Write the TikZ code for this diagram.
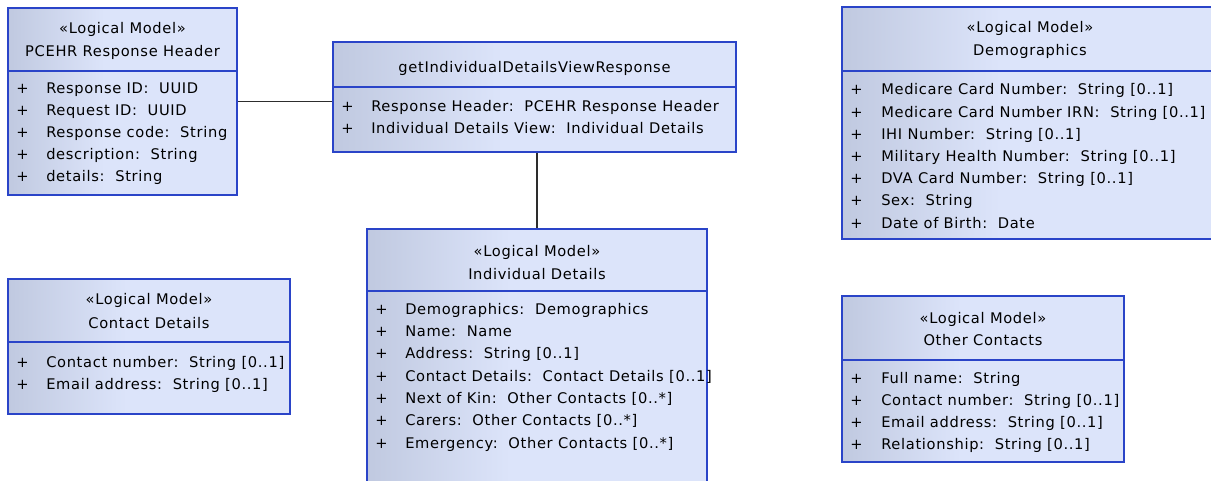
\documentclass[tikz,border=0pt]{standalone}
\usepackage{fontspec}
\setmainfont{DejaVu Sans}[LetterSpace=4.5]
\usetikzlibrary{fit}

\definecolor{umlborder}{RGB}{42,68,200}
\definecolor{umldark}{RGB}{192,201,224}
\definecolor{umllight}{RGB}{220,228,250}
\definecolor{linkcol}{RGB}{45,45,45}

% left-to-right fill of the class boxes (the path maps onto 25bp..75bp)
\pgfdeclarehorizontalshading{umlfill}{100bp}{color(0bp)=(umldark); color(25bp)=(umldark); color(46bp)=(umllight); color(100bp)=(umllight)}

\tikzset{
  classbox/.style={draw=umlborder, line width=1.4pt, shading=umlfill, inner sep=0pt},
  divider/.style={draw=umlborder, line width=1.4pt},
  link/.style={draw=linkcol, line width=1.4pt},
  txt/.style={inner sep=0pt, font=\fontsize{11pt}{13pt}\selectfont},
  hdr/.style={txt, anchor=base},
  attr/.style={txt, anchor=base west},
}

\begin{document}
\begin{tikzpicture}[x=0.75pt, y=-0.75pt]
\useasboundingbox (0,0) rectangle (1211,481);
\clip (0,0) rectangle (1211,481);

% ---------- PCEHR Response Header ----------
\node[classbox, fit={(8,8) (237,195)}] (hdrbox) {};
\draw[divider] (hdrbox.west |- 0,71) -- (hdrbox.east |- 0,71);
\node[hdr] (hdr-s) at (122.5,34) {«Logical Model»};
\node[hdr] (hdr-n) at (122.5,57) {PCEHR Response Header};
\foreach \t [count=\i] in {{Response ID:\ \ UUID},{Request ID:\ \ UUID},{Response code:\ \ String},{description:\ \ String},{details:\ \ String}}{
  \node[attr] (hdr-p\i) at (16,{94+22*(\i-1)}) {+};
  \node[attr] (hdr-a\i) at (46,{94+22*(\i-1)}) {\t};
}

% ---------- getIndividualDetailsViewResponse ----------
\node[classbox, fit={(333,42) (736,152)}] (resp) {};
\draw[divider] (resp.west |- 0,87) -- (resp.east |- 0,87);
\node[hdr] (resp-n) at (534.5,72.5) {getIndividualDetailsViewResponse};
\foreach \t [count=\i] in {{Response Header:\ \ PCEHR Response Header},{Individual Details View:\ \ Individual Details}}{
  \node[attr] (resp-p\i) at (341,{111.7+21.8*(\i-1)}) {+};
  \node[attr] (resp-a\i) at (371,{111.7+21.8*(\i-1)}) {\t};
}

% ---------- Individual Details ----------
\node[classbox, fit={(367,229) (707,495)}] (indiv) {};
\draw[divider] (indiv.west |- 0,291) -- (indiv.east |- 0,291);
\node[hdr] (indiv-s) at (537,256.5) {«Logical Model»};
\node[hdr] (indiv-n) at (537,279) {Individual Details};
\foreach \t [count=\i] in {{Demographics:\ \ Demographics},{Name:\ \ Name},{Address:\ \ String [0..1]},{Contact Details:\ \ Contact Details [0..1]},{Next of Kin:\ \ Other Contacts [0..*]},{Carers:\ \ Other Contacts [0..*]},{Emergency:\ \ Other Contacts [0..*]}}{
  \node[attr] (indiv-p\i) at (375,{314.3+22.3*(\i-1)}) {+};
  \node[attr] (indiv-a\i) at (405,{314.3+22.3*(\i-1)}) {\t};
}

% ---------- Demographics ----------
\node[classbox, fit={(842,7) (1218,239)}] (demo) {};
\draw[divider] (demo.west |- 0,71) -- (demo.east |- 0,71);
\node[hdr] (demo-s) at (1030,33) {«Logical Model»};
\node[hdr] (demo-n) at (1030,56) {Demographics};
\foreach \t [count=\i] in {{Medicare Card Number:\ \ String [0..1]},{Medicare Card Number IRN:\ \ String [0..1]},{IHI Number:\ \ String [0..1]},{Military Health Number:\ \ String [0..1]},{DVA Card Number:\ \ String [0..1]},{Sex:\ \ String},{Date of Birth:\ \ Date}}{
  \node[attr] (demo-p\i) at (850,{95+22.2*(\i-1)}) {+};
  \node[attr] (demo-a\i) at (881,{95+22.2*(\i-1)}) {\t};
}

% ---------- Contact Details ----------
\node[classbox, fit={(8,279) (290,414)}] (contact) {};
\draw[divider] (contact.west |- 0,342) -- (contact.east |- 0,342);
\node[hdr] (contact-s) at (149,305) {«Logical Model»};
\node[hdr] (contact-n) at (149,328) {Contact Details};
\foreach \t [count=\i] in {{Contact number:\ \ String [0..1]},{Email address:\ \ String [0..1]}}{
  \node[attr] (contact-p\i) at (16,{367+22*(\i-1)}) {+};
  \node[attr] (contact-a\i) at (46,{367+22*(\i-1)}) {\t};
}

% ---------- Other Contacts ----------
\node[classbox, fit={(842,296) (1124,462)}] (other) {};
\draw[divider] (other.west |- 0,360) -- (other.east |- 0,360);
\node[hdr] (other-s) at (983,323.5) {«Logical Model»};
\node[hdr] (other-n) at (983,345.5) {Other Contacts};
\foreach \t [count=\i] in {{Full name:\ \ String},{Contact number:\ \ String [0..1]},{Email address:\ \ String [0..1]},{Relationship:\ \ String [0..1]}}{
  \node[attr] (other-p\i) at (850,{383+22.3*(\i-1)}) {+};
  \node[attr] (other-a\i) at (881,{383+22.3*(\i-1)}) {\t};
}

% ---------- associations ----------
\draw[link] (hdrbox.east) -- (hdrbox.east -| resp.west);
\draw[link] (indiv.north |- resp.south) -- (indiv.north);
\end{tikzpicture}
\end{document}
